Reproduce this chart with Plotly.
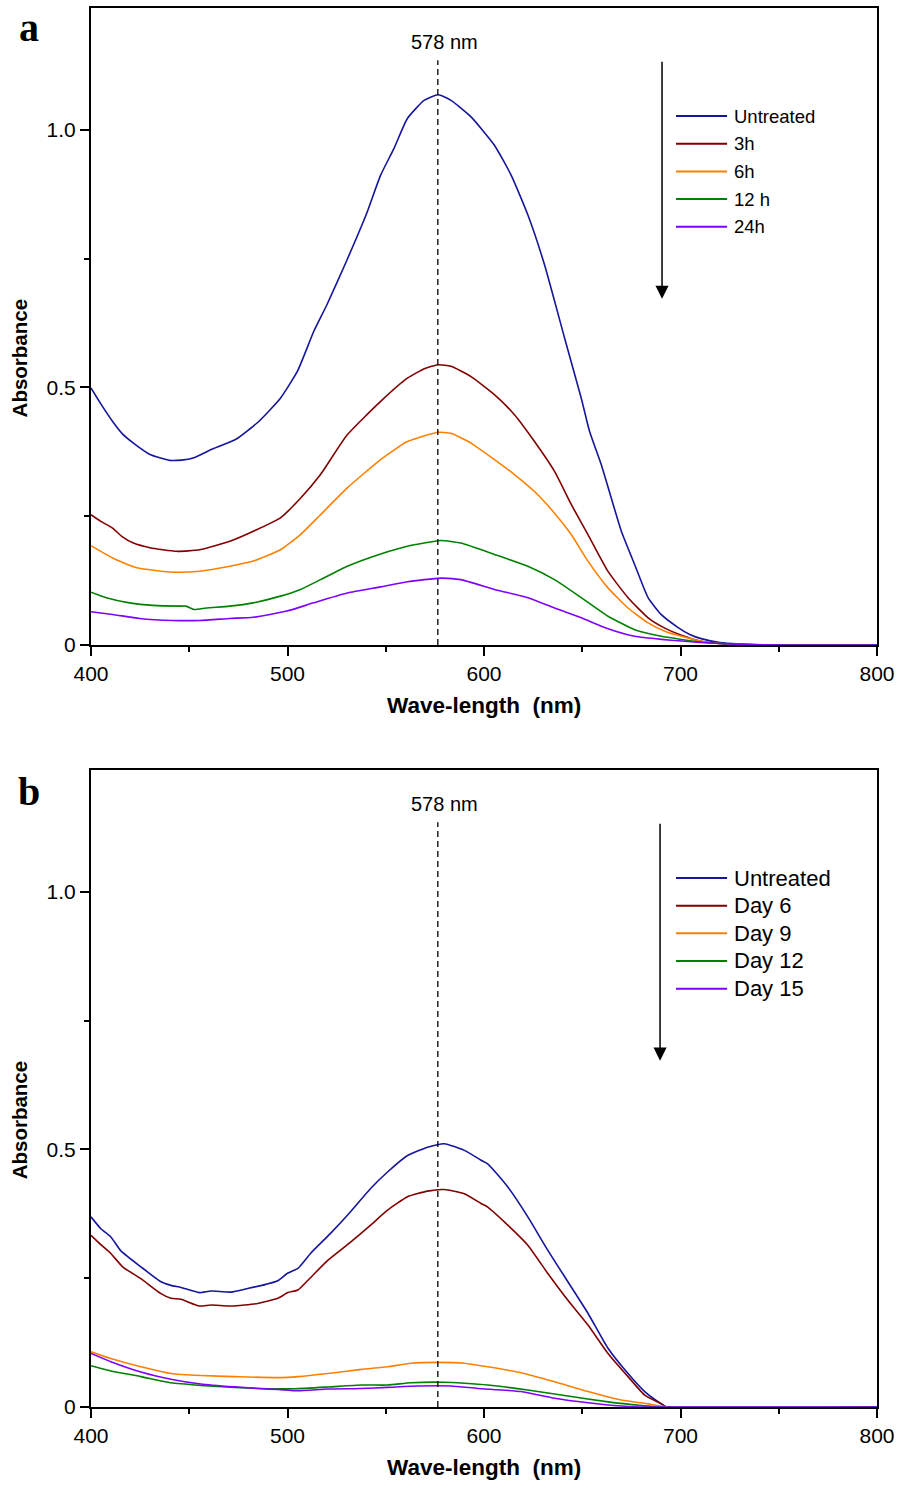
import plotly.graph_objects as go

# ---------------- data: panel a (hours) ----------------
wl_a_untreated = [400, 405, 411, 416, 421.6, 430, 440, 446, 452, 462, 474, 484.5, 490, 496.4, 505, 513.4,
                  520, 530, 540, 547.4, 554.2, 561, 569.5, 576.7, 583.2, 593.4, 605.3, 613.8, 622.3, 630.8,
                  641, 649.5, 653.7, 659.7, 664.8, 669.9, 676.7, 683.5, 690, 698.8, 705, 710, 720, 730, 740, 760, 800]
abs_a_untreated = [0.499, 0.468, 0.434, 0.410, 0.392, 0.370, 0.3585, 0.359, 0.363, 0.381, 0.400, 0.431, 0.452, 0.479,
                   0.531, 0.609, 0.660, 0.745, 0.835, 0.912, 0.964, 1.022, 1.057, 1.068, 1.057, 1.025, 0.970, 0.912,
                   0.835, 0.738, 0.596, 0.479, 0.415, 0.350, 0.285, 0.221, 0.156, 0.092, 0.060, 0.034, 0.020, 0.013,
                   0.005, 0.002, 0.0005, 0.0, 0.0]

wl_a_3h = [400, 405, 411, 416, 421.6, 430, 443.5, 455.4, 470.7, 482.6, 496.4, 506.6, 516.8, 530.4, 547.4, 561,
           570, 576.7, 583.2, 593.4, 605.3, 615.5, 625.7, 635.9, 644.4, 652.9, 663.1, 673.3, 683.5, 692, 700.5,
           710, 720, 730, 745, 800]
abs_a_3h = [0.253, 0.240, 0.227, 0.210, 0.198, 0.189, 0.182, 0.185, 0.2016, 0.221, 0.247, 0.285, 0.331, 0.408,
            0.473, 0.518, 0.537, 0.544, 0.541, 0.521, 0.486, 0.447, 0.395, 0.337, 0.273, 0.2145, 0.143, 0.092,
            0.053, 0.033, 0.019, 0.008, 0.003, 0.001, 0.0, 0.0]

wl_a_6h = [400, 411, 423.3, 441.9, 455.4, 470.7, 482.6, 496.4, 506.6, 516.8, 530.4, 547.4, 561, 576.7, 583.2,
           593.4, 605.3, 615.5, 625.7, 635.9, 644.4, 652.9, 663.1, 673.3, 683.5, 692, 700.5, 710, 720, 730, 745, 800]
abs_a_6h = [0.193, 0.169, 0.150, 0.1415, 0.1434, 0.153, 0.163, 0.185, 0.2145, 0.253, 0.305, 0.360, 0.395, 0.413,
            0.411, 0.392, 0.360, 0.331, 0.298, 0.256, 0.2145, 0.163, 0.111, 0.072, 0.043, 0.027, 0.017, 0.008,
            0.003, 0.001, 0.0, 0.0]

wl_a_12h = [400, 407.8, 419.6, 431.5, 445, 448.4, 452.6, 458.6, 470.5, 482.6, 496.4, 506.6, 516.8, 530.4, 547.4,
            561, 578, 588.2, 605.3, 622.3, 635.9, 649.5, 663.1, 676.7, 690.3, 700.5, 710, 720, 735, 750, 800]
abs_a_12h = [0.1027, 0.092, 0.082, 0.077, 0.0756, 0.0756, 0.069, 0.072, 0.0756, 0.082, 0.095, 0.108, 0.127, 0.153,
             0.177, 0.192, 0.203, 0.198, 0.176, 0.153, 0.127, 0.092, 0.056, 0.030, 0.017, 0.011, 0.006, 0.003,
             0.001, 0.0, 0.0]

wl_a_24h = [400, 411, 424.7, 441.6, 455.4, 470.7, 482.6, 499.7, 513.3, 530.4, 547.4, 561, 578, 588.2, 605.3,
            622.3, 635.9, 649.5, 663.1, 676.7, 690.3, 700.5, 710, 720, 735, 750, 800]
abs_a_24h = [0.0646, 0.0595, 0.0517, 0.0478, 0.0478, 0.0517, 0.054, 0.066, 0.082, 0.101, 0.113, 0.123, 0.130,
             0.127, 0.108, 0.092, 0.072, 0.053, 0.0316, 0.017, 0.011, 0.008, 0.005, 0.003, 0.001, 0.0, 0.0]

# ---------------- data: panel b (days) ----------------
wl_b_untreated = [400, 405, 410.1, 415.2, 425.4, 435.6, 440.7, 445.8, 455.1, 461, 471.3, 479.8, 489, 495.1, 500.2,
                  505.3, 511.7, 521.9, 532.1, 542.3, 550.9, 561.1, 571.3, 579.8, 590, 598.5, 601.9, 612.1, 622.3,
                  632.5, 642.7, 652.9, 663.1, 673.3, 681.8, 690.3, 693, 800]
abs_b_untreated = [0.369, 0.346, 0.330, 0.303, 0.272, 0.243, 0.236, 0.232, 0.222, 0.225, 0.223, 0.230, 0.238, 0.245,
                   0.260, 0.269, 0.298, 0.337, 0.379, 0.424, 0.456, 0.488, 0.504, 0.511, 0.498, 0.479, 0.472, 0.427,
                   0.369, 0.304, 0.243, 0.182, 0.114, 0.065, 0.030, 0.006, 0.0, 0.0]

wl_b_day6 = [400, 405, 410.1, 416.1, 425.4, 435.6, 440.7, 445.8, 455.1, 461, 471.3, 484.9, 495.1, 500.2, 505.3,
             510.4, 520.6, 532.1, 542.3, 550.9, 561.1, 571.3, 579.8, 590, 598.5, 601.9, 612.1, 622.3, 632.5, 642.7,
             652.9, 663.1, 673.3, 681.8, 690.3, 693, 800]
abs_b_day6 = [0.333, 0.315, 0.298, 0.272, 0.249, 0.220, 0.211, 0.209, 0.196, 0.198, 0.196, 0.201, 0.211, 0.222,
              0.227, 0.246, 0.285, 0.320, 0.353, 0.382, 0.408, 0.419, 0.422, 0.414, 0.395, 0.388, 0.353, 0.314,
              0.259, 0.207, 0.159, 0.104, 0.059, 0.023, 0.006, 0.0, 0.0]

wl_b_day9 = [400, 410.1, 425.4, 440.7, 455.9, 472.9, 495.1, 505.3, 520.6, 537.6, 550.9, 562.8, 576.4, 590, 601.9,
             618.9, 635.9, 652.9, 669.9, 683.5, 694, 800]
abs_b_day9 = [0.107, 0.094, 0.078, 0.065, 0.061, 0.059, 0.057, 0.059, 0.065, 0.073, 0.078, 0.085, 0.0866, 0.085,
              0.078, 0.0665, 0.049, 0.030, 0.0136, 0.006, 0.0, 0.0]

wl_b_day12 = [400, 410.1, 425.4, 440.7, 455.9, 472.9, 486.5, 503.5, 520.6, 537.6, 550.9, 562.8, 579.8, 590, 601.9,
              622.3, 642.7, 663.1, 680.1, 690, 800]
abs_b_day12 = [0.080, 0.070, 0.059, 0.047, 0.042, 0.038, 0.036, 0.0355, 0.0388, 0.0426, 0.0426, 0.047, 0.048,
               0.046, 0.0426, 0.033, 0.0213, 0.010, 0.003, 0.0, 0.0]

wl_b_day15 = [400, 410.1, 425.4, 440.7, 455.9, 472.9, 486.5, 495.1, 505.3, 520.6, 537.6, 550.9, 566.2, 583.2,
              596.8, 618.9, 635.9, 652.9, 669.9, 680, 800]
abs_b_day15 = [0.104, 0.088, 0.068, 0.054, 0.0446, 0.039, 0.0355, 0.034, 0.0316, 0.0349, 0.036, 0.038, 0.0407,
               0.0407, 0.036, 0.030, 0.017, 0.0083, 0.002, 0.0, 0.0]

names_a = ["Untreated", "3h", "6h", "12 h", "24h"]
names_b = ["Untreated", "Day 6", "Day 9", "Day 12", "Day 15"]
colors = ["#16169a", "#800000", "#ff8000", "#008000", "#8000ff"]

x_ticks = [400, 500, 600, 700, 800]
y_tickvals = [0, 0.5, 1.0]
y_ticktext = ["0", "0.5", "1.0"]
peak_label = "578 nm"

series_a = [(wl_a_untreated, abs_a_untreated), (wl_a_3h, abs_a_3h), (wl_a_6h, abs_a_6h),
            (wl_a_12h, abs_a_12h), (wl_a_24h, abs_a_24h)]
series_b = [(wl_b_untreated, abs_b_untreated), (wl_b_day6, abs_b_day6), (wl_b_day9, abs_b_day9),
            (wl_b_day12, abs_b_day12), (wl_b_day15, abs_b_day15)]

FONT = "Liberation Sans, Arial, sans-serif"
SERIF = "Liberation Serif, Times New Roman, serif"

fig = go.Figure()
for (xs, ys), name, col in zip(series_a, names_a, colors):
    fig.add_trace(go.Scatter(x=xs, y=ys, mode="lines", name=name,
                             line=dict(color=col, width=1.6, shape="spline", smoothing=0.5),
                             xaxis="x", yaxis="y", showlegend=False))
for (xs, ys), name, col in zip(series_b, names_b, colors):
    fig.add_trace(go.Scatter(x=xs, y=ys, mode="lines", name=name,
                             line=dict(color=col, width=1.6, shape="spline", smoothing=0.5),
                             xaxis="x2", yaxis="y2", showlegend=False))

Y_MAX = 1.2364
xaxis_common = dict(range=[400, 800], tickvals=x_ticks, ticks="outside", ticklen=9, tickwidth=2,
                    tickcolor="black", showline=True, linewidth=2, linecolor="black", mirror=True,
                    showgrid=False, zeroline=False, tickfont=dict(family=FONT, size=21, color="black"),
                    minor=dict(ticks="outside", ticklen=5, tickwidth=2, tickcolor="black", dtick=50, tick0=400,
                               showgrid=False))
yaxis_common = dict(range=[0, Y_MAX], tickvals=y_tickvals, ticktext=y_ticktext, ticks="outside", ticklen=9,
                    tickwidth=2, tickcolor="black", showline=True, linewidth=2, linecolor="black", mirror=True,
                    showgrid=False, zeroline=False, tickfont=dict(family=FONT, size=21, color="black"),
                    minor=dict(ticks="outside", ticklen=5, tickwidth=2, tickcolor="black", dtick=0.25, tick0=0,
                               showgrid=False))

fig.update_layout(
    width=902, height=1487,
    margin=dict(l=91, r=25, t=6, b=80),
    paper_bgcolor="white", plot_bgcolor="white",
    showlegend=False,
    xaxis=dict(domain=[0, 1], anchor="y", **xaxis_common),
    yaxis=dict(domain=[0.54461, 1], anchor="x", **yaxis_common),
    xaxis2=dict(domain=[0, 1], anchor="y2", **xaxis_common),
    yaxis2=dict(domain=[0, 0.45539], anchor="x2", **yaxis_common),
)

PEAK_X = 576.5
ROW0 = 1.0266
ROW_STEP = 0.05368
panels = [("x", "y", "a", 0.9864, names_a, 18.5, 690.6),
          ("x2", "y2", "b", 0.4397, names_b, 22, 689.6)]

for xr, yr, letter, letter_y, names, lfs, arrow_x in panels:
    # dashed peak line
    fig.add_shape(type="line", xref=xr, yref=yr, x0=PEAK_X, x1=PEAK_X, y0=0, y1=1.135,
                  line=dict(color="black", width=1.3, dash="6px,4px"))
    fig.add_annotation(xref=xr, yref=yr, x=580.0, y=1.17, text=peak_label, showarrow=False,
                       font=dict(family=FONT, size=20, color="black"), xanchor="center", yanchor="middle")
    # downward arrow
    fig.add_annotation(xref=xr, yref=yr, x=arrow_x, y=0.672, ax=arrow_x, ay=1.135, axref=xr, ayref=yr,
                       text="", showarrow=True, arrowhead=2, arrowsize=1.75, arrowwidth=1.5,
                       arrowcolor="black", standoff=0)
    # legend (lines + labels)
    for i, (name, col) in enumerate(zip(names, colors)):
        yv = ROW0 - i * ROW_STEP
        fig.add_shape(type="line", xref=xr, yref=yr, x0=697.7, x1=723.7, y0=yv, y1=yv,
                      line=dict(color=col, width=2))
        fig.add_annotation(xref=xr, yref=yr, x=726.2, y=yv, text=name, showarrow=False, xanchor="left",
                           yanchor="middle", font=dict(family=FONT, size=lfs, color="black"))
    # axis titles
    fig.add_annotation(xref=xr + " domain", yref=yr + " domain", x=0.5, y=-0.0956,
                       text="<b>Wave-length \u00a0(nm)</b>", showarrow=False, xanchor="center", yanchor="middle",
                       font=dict(family=FONT, size=22.5, color="black"))
    fig.add_annotation(xref="paper", yref=yr + " domain", x=-0.0916, y=0.45, text="<b>Absorbance</b>",
                       textangle=-90, showarrow=False, xanchor="center", yanchor="middle",
                       font=dict(family=FONT, size=20.5, color="black"))
    # panel letter
    fig.add_annotation(xref="paper", yref="paper", x=-0.079, y=letter_y, text="<b>" + letter + "</b>",
                       showarrow=False, xanchor="center", yanchor="middle",
                       font=dict(family=SERIF, size=40, color="black"))

fig.write_html("out.html", config={"displayModeBar": False},
               post_script="document.body.style.margin='0px';")
